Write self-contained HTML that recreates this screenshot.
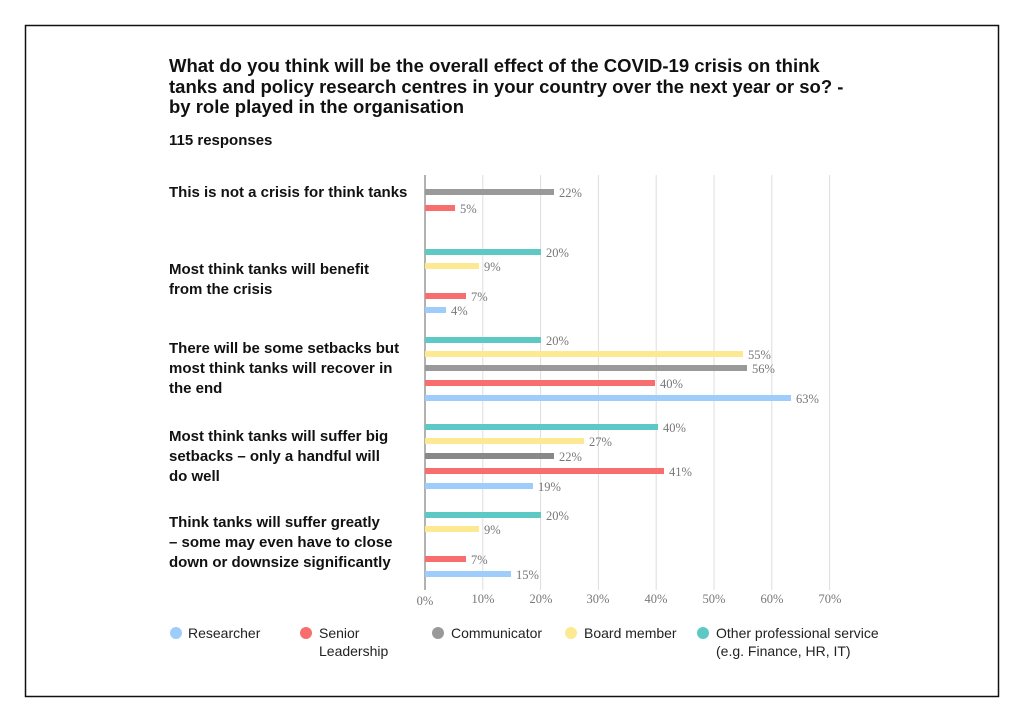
<!DOCTYPE html>
<html><head><meta charset="utf-8"><style>
body{margin:0;background:#fff;width:1024px;height:722px;overflow:hidden}
svg text{font-family:"Liberation Sans",sans-serif}
svg text.v, svg .v text{font-family:"Liberation Serif",serif;font-size:12.5px;fill:#777}
.q{font-size:15px;fill:#111}
.l{font-size:14px;fill:#222}
</style></head><body>
<svg width="1024" height="722" xmlns="http://www.w3.org/2000/svg">
<rect x="25.5" y="25.5" width="973" height="671" fill="none" stroke="#111" stroke-width="1.5"/>
<g font-weight="bold" fill="#111" font-size="18.5">
<text x="169" y="72">What do you think will be the overall effect of the COVID-19 crisis on think</text>
<text x="169" y="93">tanks and policy research centres in your country over the next year or so? -</text>
<text x="169" y="113">by role played in the organisation</text>
<text x="169" y="145" font-size="15">115 responses</text>
</g>
<g stroke="#ddd" stroke-width="1">
<line x1="482.8" y1="175" x2="482.8" y2="590"/><line x1="540.6" y1="175" x2="540.6" y2="590"/>
<line x1="598.4" y1="175" x2="598.4" y2="590"/><line x1="656.2" y1="175" x2="656.2" y2="590"/>
<line x1="714" y1="175" x2="714" y2="590"/><line x1="771.8" y1="175" x2="771.8" y2="590"/>
<line x1="829.6" y1="175" x2="829.6" y2="590"/>
</g>
<line x1="425" y1="175" x2="425" y2="590" stroke="#999" stroke-width="1.5"/>
<g font-weight="bold" class="q">
<text x="169" y="197">This is not a crisis for think tanks</text>
<text x="169" y="274">Most think tanks will benefit</text><text x="169" y="294">from the crisis</text>
<text x="169" y="353">There will be some setbacks but</text><text x="169" y="373">most think tanks will recover in</text><text x="169" y="393">the end</text>
<text x="169" y="441">Most think tanks will suffer big</text><text x="169" y="461">setbacks – only a handful will</text><text x="169" y="481">do well</text>
<text x="169" y="527">Think tanks will suffer greatly</text><text x="169" y="547">– some may even have to close</text><text x="169" y="567">down or downsize significantly</text>
</g>
<g>
<rect x="425" y="189" width="129" height="6" fill="#999"/><text class="v" x="559" y="197">22%</text>
<rect x="425" y="205" width="30" height="6" fill="#f86d6d"/><text class="v" x="460" y="213">5%</text>
<rect x="425" y="249" width="116" height="6" fill="#5ec9c4"/><text class="v" x="546" y="257">20%</text>
<rect x="425" y="263" width="54" height="6" fill="#fde992"/><text class="v" x="484" y="271">9%</text>
<rect x="425" y="293" width="41" height="6" fill="#f86d6d"/><text class="v" x="471" y="301">7%</text>
<rect x="425" y="307" width="21" height="6" fill="#9fcdfb"/><text class="v" x="451" y="315">4%</text>
<rect x="425" y="337" width="116" height="6" fill="#5ec9c4"/><text class="v" x="546" y="345">20%</text>
<rect x="425" y="351" width="318" height="6" fill="#fde992"/><text class="v" x="748" y="359">55%</text>
<rect x="425" y="365" width="322" height="6" fill="#999"/><text class="v" x="752" y="373">56%</text>
<rect x="425" y="380" width="230" height="6" fill="#f86d6d"/><text class="v" x="660" y="388">40%</text>
<rect x="425" y="395" width="366" height="6" fill="#9fcdfb"/><text class="v" x="796" y="403">63%</text>
<rect x="425" y="424" width="233" height="6" fill="#5ec9c4"/><text class="v" x="663" y="432">40%</text>
<rect x="425" y="438" width="159" height="6" fill="#fde992"/><text class="v" x="589" y="446">27%</text>
<rect x="425" y="453" width="129" height="6" fill="#888"/><text class="v" x="559" y="461">22%</text>
<rect x="425" y="468" width="239" height="6" fill="#f86d6d"/><text class="v" x="669" y="476">41%</text>
<rect x="425" y="483" width="108" height="6" fill="#9fcdfb"/><text class="v" x="538" y="491">19%</text>
<rect x="425" y="512" width="116" height="6" fill="#5ec9c4"/><text class="v" x="546" y="520">20%</text>
<rect x="425" y="526" width="54" height="6" fill="#fde992"/><text class="v" x="484" y="534">9%</text>
<rect x="425" y="556" width="41" height="6" fill="#f86d6d"/><text class="v" x="471" y="564">7%</text>
<rect x="425" y="571" width="86" height="6" fill="#9fcdfb"/><text class="v" x="516" y="579">15%</text>
</g>
<g text-anchor="middle">
<text class="v" x="425" y="605">0%</text><text class="v" x="483" y="603">10%</text><text class="v" x="541" y="603">20%</text><text class="v" x="598" y="603">30%</text>
<text class="v" x="656" y="603">40%</text><text class="v" x="714" y="603">50%</text><text class="v" x="772" y="603">60%</text><text class="v" x="830" y="603">70%</text>
</g>
<g class="l">
<circle cx="176" cy="633" r="6" fill="#9fcdfb"/><text x="188" y="638">Researcher</text>
<circle cx="306" cy="633" r="6" fill="#f86d6d"/><text x="319" y="638">Senior</text><text x="319" y="656">Leadership</text>
<circle cx="438" cy="633" r="6" fill="#999"/><text x="451" y="638">Communicator</text>
<circle cx="571" cy="633" r="6" fill="#fde992"/><text x="584" y="638">Board member</text>
<circle cx="703" cy="633" r="6" fill="#5ec9c4"/><text x="716" y="638">Other professional service</text><text x="716" y="656">(e.g. Finance, HR, IT)</text>
</g>
</svg>
</body></html>
